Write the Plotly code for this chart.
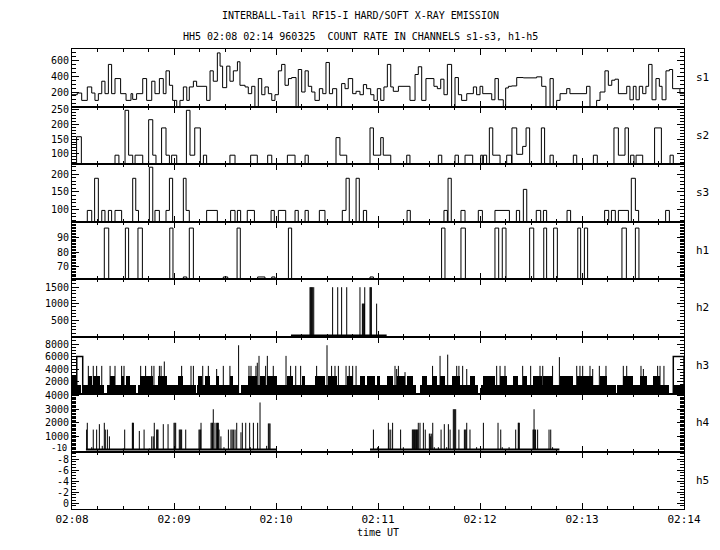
import plotly.graph_objects as go
from plotly.subplots import make_subplots

# ---------------- data (time in seconds after 02:08:00 UT) ----------------
x_tickvals = [0, 60, 120, 180, 240, 300, 360]
x_ticktext = ["02:08", "02:09", "02:10", "02:11", "02:12", "02:13", "02:14"]

panel_names = ["s1", "s2", "s3", "h1", "h2", "h3", "h4", "h5"]

# s1 : step curve (start time of each step, count rate)
s1_t = [0, 3.1, 5.7, 9.0, 11.6, 13.5, 15.5, 17.5, 19.4, 21.4, 23.3, 25.3, 28.6, 31.8, 34.7, 35.7,
        38.0, 41.6, 43.9, 46.9, 48.8, 51.4, 53.7, 55.3, 57.3, 59.2, 61.6, 63.5, 65.5, 67.5, 69.0,
        71.4, 73.3, 79.2, 81.2, 83.1, 85.5, 87.1, 88.6, 91.0, 92.9, 94.9, 97.3, 98.8, 101.8, 103.7,
        105.7, 107.6, 109.6, 111.6, 113.5, 115.5, 117.5, 119.4, 121.4, 123.3, 125.3, 127.3, 129.2,
        131.8, 133.1, 135.1, 137.1, 139.0, 141.0, 142.9, 145.5, 147.5, 149.4, 151.4, 153.3, 155.7,
        158.6, 160.6, 162.5, 165.1, 167.1,
        169.4, 171.4, 173.3, 175.7, 177.6, 179.6, 181.6, 183.5, 185.5, 187.5, 189.0, 192.0, 198.8,
        201.8, 203.7, 205.7, 208.2, 212.9, 214.9, 216.9, 218.8, 220.8, 223.3, 225.3, 227.3, 229.2,
        232.2, 236.1, 238.0, 240.0, 241.6, 246.9, 248.8, 250.8, 253.7, 255.1, 256.7, 258.6, 261.6,
        265.5, 273.3, 276.3, 278.8, 281.2, 283.1, 285.1, 287.1, 291.0, 292.9, 302.7, 304.7, 308.6,
        310.6, 313.5, 315.5, 317.5, 319.4, 321.4, 326.3, 328.2, 330.2, 331.8, 333.7, 335.7, 337.6,
        339.2, 341.2, 343.5, 345.5, 347.1, 349.4, 351.4, 353.3, 357.6]
s1_v = [166, 187, 93, 265, 187, 93, 179, 338, 179, 553, 179, 372, 179, 93, 179, 106,
        179, 372, 93, 338, 179, 372, 179, 471, 286, 93, 15, 93, 265, 93, 265,
        338, 273, 93, 471, 338, 700, 531, 256, 531, 338, 471, 587, 286, 265, 179,
        273, 15, 372, 166, 265, 179, 93, 166, 471, 553, 286, 372, 385,
        15, 488, 200, 471, 273, 200, 93, 243, 179, 578, 179, 243, 15,
        308, 243, 372, 179, 209,
        166, 295, 243, 166, 93, 243, 93, 265, 553, 265, 209, 273, 93,
        424, 523, 93, 372, 273, 243, 364, 166, 553, 15, 385, 166, 93,
        179, 265, 166, 273, 179, 101, 372, 101, 15, 252, 273, 278, 385,
        381, 394, 273, 15, 372, 15, 93, 179, 243, 179, 273, 15, 93,
        200, 471, 286, 351, 364, 179, 273, 101, 273, 101, 273, 179, 273,
        553, 101, 372, 273, 101, 471, 488, 243, 179]

# s2 : episodes above the floor (start, end, count rate)
s2_start = [2.7, 25.3, 31.2, 33.3, 37.1, 45.1, 47.5, 52.7, 55.3, 58.6, 67.3, 69.4, 72.2, 77.3,
            92.9, 105.1, 115.1, 126.7, 137.1, 155.3, 157.6,
            175.3, 177.3, 181.6, 183.1, 196.9, 215.5, 225.3, 231.2, 240.4, 242.0, 245.5, 247.5,
            255.7, 258.8, 261.6, 265.1, 267.1, 276.1, 281.2, 294.9, 306.7, 318.8, 321.4, 325.3,
            328.6, 331.8, 342.7, 351.8]
s2_end = [5.5, 27.6, 33.3, 35.7, 41.6, 47.5, 49.4, 55.3, 57.3, 61.6, 69.4, 72.2, 75.5, 79.2,
          95.9, 109.0, 117.5, 131.2, 139.0, 157.6, 161.6,
          177.3, 181.6, 183.1, 187.5, 198.8, 217.5, 227.3, 235.7, 241.6, 243.9, 247.5, 251.8,
          258.6, 261.6, 265.1, 267.1, 269.2, 278.0, 283.1, 296.9, 309.0, 321.4, 325.3, 327.3,
          330.6, 335.7, 346.7, 353.7]
s2_val = [158, 95, 248, 95, 95, 216, 95, 188, 95, 95, 248, 95, 188, 95,
          95, 95, 95, 95, 95, 155, 95,
          188, 95, 155, 95, 95, 95, 95, 95, 95, 95, 188, 95,
          95, 188, 98, 125, 188, 188, 95, 95, 95, 188, 95, 188,
          95, 95, 188, 95]

# s3
s3_start = [9.0, 13.3, 17.5, 21.4, 25.3, 35.7, 37.5, 45.5, 48.8, 55.3, 57.3, 65.5, 67.1, 79.2,
            93.3, 97.3, 103.1, 117.1, 121.4, 131.2, 137.1, 145.5, 159.0, 161.2, 167.1,
            171.4, 197.1, 218.8, 221.2, 228.8, 239.0, 248.8, 261.4, 265.5, 273.1, 277.3, 291.2,
            313.3, 317.3, 321.4, 329.0, 331.4, 349.2]
s3_end = [11.6, 15.5, 19.4, 23.3, 29.2, 37.5, 39.1, 47.5, 51.4, 57.3, 59.2, 67.1, 69.0, 85.5,
          95.9, 99.2, 107.3, 119.0, 125.7, 133.1, 139.0, 148.8, 161.2, 163.1, 169.0,
          173.3, 199.0, 220.8, 223.1, 231.2, 241.4, 257.3, 263.3, 267.5, 275.7, 279.2, 293.3,
          315.7, 319.6, 327.3, 331.4, 333.3, 351.4]
s3_val = [98, 188, 98, 98, 98, 188, 98, 219, 98, 98, 188, 188, 98, 98,
          98, 98, 98, 98, 98, 98, 98, 98, 98, 188, 188,
          98, 98, 98, 188, 98, 98, 98, 98, 157, 98, 98, 98,
          98, 98, 98, 188, 98, 98]

# h1
h1_start = [19.0, 31.4, 38.8, 57.5, 65.5, 69.0, 89.0, 97.1, 109.2, 117.5, 127.3,
            175.3, 217.4, 228.8, 248.8, 253.1, 269.2, 277.5, 283.3, 297.5, 301.4, 323.5, 331.4]
h1_end = [21.6, 33.3, 41.4, 59.4, 67.5, 71.4, 91.6, 99.0, 113.5, 119.4, 129.2,
          177.3, 219.4, 231.4, 251.0, 255.3, 271.6, 279.2, 285.5, 299.2, 303.3, 326.1, 333.5]
h1_val = [96.5, 96.5, 96.5, 96.5, 63, 96.5, 63, 96.5, 63, 63, 96.5,
          63, 96.5, 96.5, 96.5, 96.5, 96.5, 96.5, 96.5, 96.5, 96.5, 96.5, 96.5]

# h2 : individual counts (time, rate) and the low-level interval
h2_t = [140.0, 140.4, 140.8, 141.2, 141.6, 142.2, 153.3, 156.3, 158.6, 161.6,
        169.4, 170.8, 171.2, 171.6, 172.0, 172.2, 175.3, 175.7, 176.1, 179.2]
h2_v = [1500, 1500, 1500, 1500, 1500, 1500, 1500, 1500, 1500, 1500,
        1500, 1000, 1000, 1000, 1000, 1500, 1500, 1500, 1500, 1000]
h2_low_start = [128.8]
h2_low_end = [185.1]
h2_low_val = [25]

# h3 : background level intervals, 3000-level intervals, spikes, 6000 steps
h3_base_start = [0, 6.5, 20.8, 39.0, 73.5, 94.5, 99.2, 123.1, 125.5, 131.4, 204.7, 208.8,
                 240.4, 263.2, 320.6, 353.7]
h3_base_end = [5.5, 19.0, 37.6, 73.1, 94.1, 98.4, 122.7, 125.1, 131.0, 202.3, 208.4, 239.0,
               262.8, 320.2, 351.2, 360]
h3_base_val = 1520
h3_band_start = [0, 9.6, 12.5, 22.4, 28.6, 31.8, 40.0, 50.8, 62.5, 74.3, 78.2, 84.7, 92.9,
                 103.7, 110.6, 114.5, 126.3, 135.1, 142.9, 150.8, 161.6,
                 169.4, 173.3, 179.2, 185.1, 191.0, 196.9, 205.7, 211.8, 216.5, 223.3, 234.1,
                 242.0, 251.8, 259.6, 265.5, 271.4, 277.3, 287.1, 296.9, 310.6, 324.3, 334.1, 342.0]
h3_band_end = [2.7, 11.6, 16.5, 25.3, 30.6, 34.1, 47.8, 55.7, 65.5, 76.3, 81.2, 86.5, 94.9,
               108.6, 113.5, 120.4, 130.2, 137.1, 148.8, 155.7, 165.5,
               172.4, 178.2, 181.2, 189.0, 195.9, 200.8, 208.6, 214.5, 219.4, 228.2, 237.1,
               248.8, 255.7, 262.5, 267.5, 276.3, 283.1, 294.9, 306.7, 314.5, 330.2, 338.0, 345.9]
h3_band_val = 2950
h3_spike_t = [9.6, 12.5, 14.5, 17.5, 22.4, 25.3, 29.2, 30.6, 40.4, 43.3, 46.9, 48.2, 51.4,
              52.4, 54.3, 64.5, 70.0, 71.4, 76.9, 80.2, 85.1, 89.0, 92.9, 98.0, 104.1, 105.3,
              108.2, 109.0, 110.0, 113.9, 114.9, 118.4, 125.9, 128.6, 131.6, 134.5, 143.9,
              150.0, 152.7, 154.7, 156.7, 161.2, 163.1, 165.1, 167.1,
              190.0, 191.0, 192.0, 195.9, 212.1, 216.5, 221.0, 226.3, 227.6, 229.8, 232.2,
              249.8, 251.8, 254.7, 265.1, 269.8, 275.3, 276.9, 282.7, 286.7, 296.9, 298.8,
              300.4, 304.7, 306.3, 310.2, 314.1, 324.3, 326.3, 334.7, 336.1, 344.5, 345.9, 348.2]
h3_spike_v = [4500, 4500, 4500, 4500, 4500, 4500, 4500, 4500, 4500, 4500, 4500, 4500, 4500,
              4500, 5200, 4500, 4500, 4500, 4500, 4500, 4000, 4500, 4500, 7800, 4500, 4500,
              4500, 5000, 6100, 4500, 6100, 4500, 6100, 4500, 4500, 4500, 4500,
              7800, 4500, 4500, 4500, 4500, 4500, 4500, 4500,
              4500, 4000, 4500, 3500, 4500, 6100, 6300, 4500, 4500, 4500, 4000,
              4500, 4500, 4500, 4500, 4500, 4500, 4500, 4500, 5900, 4500, 4500,
              4500, 4500, 4000, 4500, 4500, 4500, 4500, 4500, 4000, 4500, 4500, 4500]
h3_step_start = [2.8, 353.7]
h3_step_end = [6.3, 360]
h3_step_val = [6000, 6000]

# h4
h4_t = [8.6, 9.0, 11.6, 12.5, 14.5, 16.1, 17.8, 19.0, 19.6, 20.8, 22.0, 30.2, 31.0, 35.5,
        35.8, 36.1, 39.6, 42.4, 45.5, 46.9, 47.8, 48.4, 49.8, 50.2, 50.6, 53.7, 56.5, 60.0,
        60.5, 61.0, 63.1, 63.6, 64.0, 64.5, 66.9, 74.7, 75.2, 75.7, 75.9, 81.8, 82.3, 82.7,
        83.1, 84.1, 85.1, 85.6, 86.1, 86.5, 87.6, 89.4, 92.0, 93.5, 94.2, 94.9, 95.9, 96.9,
        99.4, 100.2, 102.2, 104.5, 104.9, 106.7, 109.2, 110.6, 114.5, 115.5, 116.0, 116.5,
        177.3, 179.8, 186.1, 186.5, 187.5, 188.6, 193.3, 194.9, 200.2, 200.6, 201.0, 201.4,
        201.8, 202.2, 202.6, 203.0, 203.4, 203.7, 204.7, 206.7, 207.8, 210.2, 210.6, 211.0,
        211.6, 212.2, 213.1, 215.5, 217.1, 219.0, 220.4, 221.4, 222.4, 224.3, 224.8, 225.2,
        225.7, 227.6, 230.8, 231.3, 231.8, 232.2, 234.1, 238.0, 242.0, 250.6, 252.2, 253.1,
        257.1, 261.0, 262.5, 262.8, 263.1, 271.2, 271.6, 271.8, 272.2, 272.7, 273.9, 280.6,
        281.6, 282.7]
h4_v = [1500, 2000, 200, 1500, 1500, 1900, 300, 2000, 1500, 1500, 1000, 100, 1500, 2000,
        2000, 2000, 1400, 1500, 100, 1000, 1000, 2000, 1500, 1500, 1500, 1900, 1900, 2000,
        2000, 2000, 1500, 1500, 1500, 1500, 1500, 1500, 1500, 1500, 2000, 2000, 2000, 2000,
        3000, 2000, 2000, 2000, 2000, 1500, 1000, 200, 1500, 1500, 1500, 1500, 1500, 2000,
        1300, 2000, 2000, 2000, 200, 2000, 2000, 3500, 300, 1950, 1950, 1950,
        1500, 200, 2000, 1500, 1500, 2000, 1500, 200, 1500, 1500, 1500, 1500,
        1500, 1500, 1500, 1500, 1500, 2000, 2000, 2000, 1500, 1200, 1200, 1000,
        1200, 2000, 200, 200, 1500, 1900, 200, 1900, 1500, 3000, 3000, 3000,
        3000, 1500, 1500, 1500, 1500, 2000, 1500, 200, 2000, 2000, 1500, 200,
        200, 1500, 2000, 2000, 2000, 1500, 1500, 3000, 1500, 1500, 1500, 1500,
        1500, 200]
h4_low_start = [8.2, 175.3]
h4_low_end = [120.4, 286.7]
h4_low_val = [25, 25]
h4_bottom_label = "-10"

# axis settings per panel (h5 axis runs downward: position p shows value -p)
y_ranges = [[15, 750], [65, 261], [67, 228], [61.6, 101], [0, 1750], [0, 9200],
            [-117, 4125], [-1.05, 9.4]]
y_tickvals = [[200, 400, 600], [100, 150, 200, 250], [100, 150, 200], [70, 80, 90],
              [500, 1000, 1500], [2000, 4000, 6000, 8000], [1000, 2000, 3000, 4000],
              [8, 6, 4, 2, 0]]
y_ticktext = [None, None, None, None, None, None, None, ["-8", "-6", "-4", "-2", "0"]]
y_minor = [50, 10, 10, 1, 100, 500, 100, 0.5]

# ---------------- figure ----------------
FONT = "DejaVu Sans Mono"
fig = make_subplots(rows=8, cols=1, shared_xaxes=False, vertical_spacing=0)
LINE = dict(color="black", width=1)


def step_intervals(starts, ends, vals, floor):
    xs, ys = [0], [floor]
    for i, (s, e, v) in enumerate(zip(starts, ends, vals)):
        xs.append(s)
        ys.append(v)
        nxt = starts[i + 1] if i + 1 < len(starts) else None
        if nxt is None or nxt > e + 1e-6:
            xs.append(e)
            ys.append(floor)
    xs.append(360)
    ys.append(floor)
    return xs, ys


def spikes(ts, vs, base=0):
    xs, ys = [], []
    for t, v in zip(ts, vs):
        xs += [t, t, None]
        ys += [base, v, None]
    return xs, ys


# s1
fig.add_trace(go.Scatter(x=s1_t + [360], y=s1_v + [s1_v[-1]], mode="lines", line=LINE,
                         line_shape="hv"), row=1, col=1)
# s2, s3, h1
for r, (st, en, va, fl) in enumerate([(s2_start, s2_end, s2_val, 0),
                                      (s3_start, s3_end, s3_val, 0),
                                      (h1_start, h1_end, h1_val, 0)], start=2):
    xs, ys = step_intervals(st, en, va, fl)
    fig.add_trace(go.Scatter(x=xs, y=ys, mode="lines", line=LINE, line_shape="hv"), row=r, col=1)

# h2
xs, ys = spikes(h2_t, h2_v)
fig.add_trace(go.Scatter(x=xs, y=ys, mode="lines", line=LINE), row=5, col=1)
for s, e, v in zip(h2_low_start, h2_low_end, h2_low_val):
    fig.add_trace(go.Scatter(x=[s, e], y=[v, v], mode="lines",
                             line=dict(color="black", width=2.5)), row=5, col=1)

# h3
fig.add_trace(go.Bar(x=[(s + e) / 2 for s, e in zip(h3_base_start, h3_base_end)],
                     y=[h3_base_val] * len(h3_base_start),
                     width=[e - s for s, e in zip(h3_base_start, h3_base_end)],
                     marker=dict(color="black", line=dict(width=0))), row=6, col=1)
fig.add_trace(go.Bar(x=[(s + e) / 2 for s, e in zip(h3_band_start, h3_band_end)],
                     y=[h3_band_val] * len(h3_band_start),
                     width=[e - s for s, e in zip(h3_band_start, h3_band_end)],
                     marker=dict(color="black", line=dict(width=0))), row=6, col=1)
xs, ys = spikes(h3_spike_t, h3_spike_v)
fig.add_trace(go.Scatter(x=xs, y=ys, mode="lines", line=LINE), row=6, col=1)
for s, e, v in zip(h3_step_start, h3_step_end, h3_step_val):
    fig.add_trace(go.Scatter(x=[s, s, e, e], y=[0, v, v, 0], mode="lines",
                             line=dict(color="black", width=1.5)), row=6, col=1)

# h4
xs, ys = spikes(h4_t, h4_v)
fig.add_trace(go.Scatter(x=xs, y=ys, mode="lines", line=LINE), row=7, col=1)
for s, e, v in zip(h4_low_start, h4_low_end, h4_low_val):
    fig.add_trace(go.Scatter(x=[s, e], y=[v, v], mode="lines",
                             line=dict(color="black", width=2)), row=7, col=1)

# h5 : no counts; an invisible point keeps the subplot active
fig.add_trace(go.Scatter(x=[0], y=[0], mode="markers", marker=dict(opacity=0)), row=8, col=1)

# axes
for i in range(8):
    r = i + 1
    fig.update_xaxes(range=[0, 360], tickmode="array", tickvals=x_tickvals, ticktext=x_ticktext,
                     ticks="inside", ticklen=6, tickwidth=1, tickcolor="black",
                     showline=True, linecolor="black", linewidth=1, mirror="allticks",
                     showgrid=False, zeroline=False, showticklabels=(r == 8),
                     tickfont=dict(family=FONT, size=11, color="black"),
                     minor=dict(dtick=15, tick0=0, ticklen=3, ticks="inside", tickcolor="black",
                                showgrid=False),
                     row=r, col=1)
    ykw = dict(range=y_ranges[i], tickmode="array", tickvals=y_tickvals[i],
               ticks="inside", ticklen=7, tickwidth=1, tickcolor="black",
               showline=True, linecolor="black", linewidth=1, mirror="allticks",
               showgrid=False, zeroline=False,
               tickfont=dict(family=FONT, size=10, color="black"),
               minor=dict(dtick=y_minor[i], tick0=0, ticklen=4, ticks="inside",
                          tickcolor="black", showgrid=False))
    if y_ticktext[i] is not None:
        ykw["ticktext"] = y_ticktext[i]
    fig.update_yaxes(row=r, col=1, **ykw)

annotations = [
    dict(text="INTERBALL-Tail RF15-I HARD/SOFT X-RAY EMISSION", x=0.4706, y=1.0739),
    dict(text="HH5 02:08 02:14 960325 \u00a0COUNT RATE IN CHANNELS s1-s3, h1-h5", x=0.4706, y=1.0261),
    dict(text="time UT", x=0.5, y=-0.05),
]
for a in annotations:
    fig.add_annotation(xref="paper", yref="paper", xanchor="center", yanchor="middle",
                       showarrow=False, font=dict(family=FONT, size=10, color="black"), **a)
# bottom label of the h4 axis, squeezed between the "1000" of h4 and the "-8" of h5
fig.add_annotation(text=h4_bottom_label, xref="paper", yref="paper", x=-0.0055,
                   y=(509 - 448.4) / 460, xanchor="right", yanchor="middle", showarrow=False,
                   font=dict(family=FONT, size=9, color="black"))
for i, name in enumerate(panel_names):
    fig.add_annotation(text=name, xref="paper", yref="paper", x=1.016, y=1 - (i + 0.5) / 8,
                       xanchor="left", yanchor="middle", showarrow=False,
                       font=dict(family=FONT, size=11, color="black"))

fig.update_traces(hoverinfo="skip")
# the page body adds an 8 px offset, so margins are reduced by 8 px on left/top
fig.update_layout(width=720, height=550, margin=dict(l=64, r=44, t=41, b=49),
                  paper_bgcolor="white", plot_bgcolor="white", showlegend=False,
                  barmode="overlay", bargap=0)
fig.write_html("out.html")
